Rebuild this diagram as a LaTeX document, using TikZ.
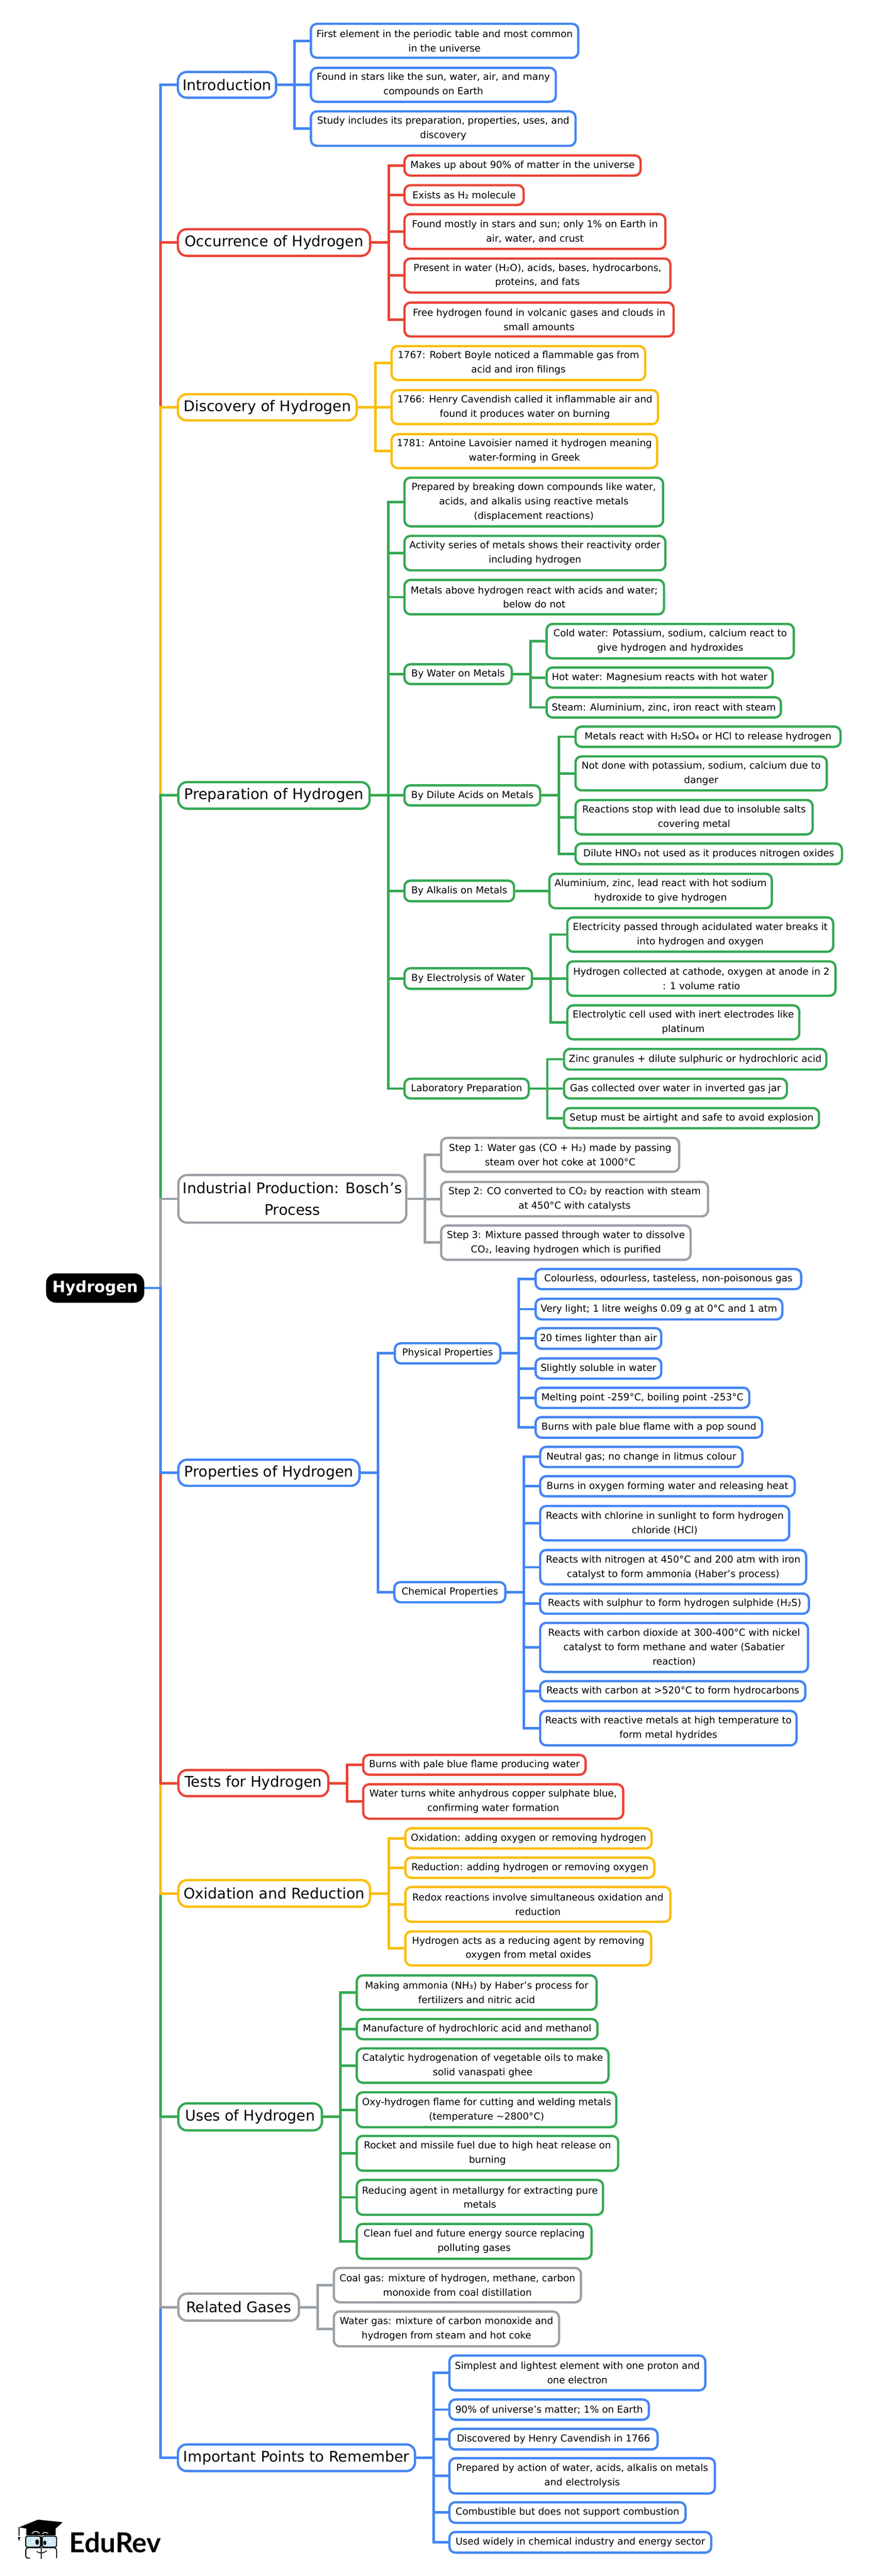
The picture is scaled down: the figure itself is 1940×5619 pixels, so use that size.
\documentclass[tikz,border=0pt]{standalone}
\usepackage{fontspec}
\setmainfont{DejaVu Sans}
\newfontfamily\logofont{Lato}
\definecolor{cblue}{HTML}{4285F4}
\definecolor{cred}{HTML}{EA4335}
\definecolor{cyel}{HTML}{FBBC04}
\definecolor{cgrn}{HTML}{34A853}
\definecolor{cgry}{HTML}{9AA0A6}
\definecolor{clens}{HTML}{CFE8F7}
\tikzset{
  boxbase/.style={draw,fill=white,line width=5pt,align=center,inner sep=0pt,text=black},
  leaf/.style={boxbase,draw=#1,rounded corners=13pt,font=\fontsize{21}{31.3}\selectfont},
  topic/.style={boxbase,draw=#1,rounded corners=19pt,font=\fontsize{32}{47}\selectfont},
  rootbox/.style={boxbase,fill=black,draw=black,text=white,rounded corners=19pt,font=\fontsize{34}{47}\selectfont\bfseries},
  conn/.style={line width=5.5pt,line join=miter}
}
\newcommand\bx[7]{\node[#6,minimum width={(#4-#2)*1pt},minimum height={(#5-#3)*1pt}] (#1) at ({(#2+#4)/2},{(#3+#5)/2}) {#7};}
\newcommand\links[3]{\foreach \c in {#3} \draw[conn,#2] (#1.east) -- ++(38,0) |- (\c.west);}
\begin{document}
\begin{tikzpicture}[x=1pt,y=-1pt]
\useasboundingbox[fill=white] (0,0) rectangle (1940,5619);
% root and main topics
\bx{root}{103}{2780}{312}{2839}{rootbox}{Hydrogen}
\bx{intro}{388}{157}{602}{213}{topic=cblue}{Introduction}
\bx{occ}{388}{500}{807}{558}{topic=cred}{Occurrence of Hydrogen}
\bx{disc}{388}{860}{778}{917}{topic=cyel}{Discovery of Hydrogen}
\bx{prep}{389}{1706}{806}{1764}{topic=cgrn}{Preparation of Hydrogen}
\bx{bosch}{389}{2563}{886}{2667}{topic=cgry}{Industrial Production: Bosch's\\Process}
\bx{props}{389}{3184}{784}{3241}{topic=cblue}{Properties of Hydrogen}
\bx{tests}{389}{3861}{716}{3918}{topic=cred}{Tests for Hydrogen}
\bx{oxid}{389}{4101}{807}{4159}{topic=cyel}{Oxidation and Reduction}
\bx{uses}{389}{4588}{702}{4647}{topic=cgrn}{Uses of Hydrogen}
\bx{rel}{389}{5003}{652}{5062}{topic=cgry}{Related Gases}
\bx{imp}{388}{5332}{905}{5390}{topic=cblue}{Important Points to Remember}
% introduction
\bx{i1}{678}{52}{1261}{126}{leaf=cblue}{First element in the periodic table and most common\\in the universe}
\bx{i2}{678}{148}{1212}{222}{leaf=cblue}{Found in stars like the sun, water, air, and many\\compounds on Earth}
\bx{i3}{678}{243}{1255}{318}{leaf=cblue}{Study includes its preparation, properties, uses, and\\discovery}
% occurrence
\bx{o1}{882}{339}{1397}{383}{leaf=cred}{Makes up about 90\% of matter in the universe}
\bx{o2}{882}{404}{1142}{447}{leaf=cred}{Exists as H₂ molecule}
\bx{o3}{882}{467}{1451}{543}{leaf=cred}{Found mostly in stars and sun; only 1\% on Earth in\\air, water, and crust}
\bx{o4}{882}{564}{1462}{638}{leaf=cred}{Present in water (H₂O), acids, bases, hydrocarbons,\\proteins, and fats}
\bx{o5}{882}{660}{1469}{734}{leaf=cred}{Free hydrogen found in volcanic gases and clouds in\\small amounts}
% discovery
\bx{d1}{854}{755}{1407}{829}{leaf=cyel}{1767: Robert Boyle noticed a flammable gas from\\acid and iron filings}
\bx{d2}{854}{851}{1435}{925}{leaf=cyel}{1766: Henry Cavendish called it inflammable air and\\found it produces water on burning}
\bx{d3}{854}{947}{1433}{1021}{leaf=cyel}{1781: Antoine Lavoisier named it hydrogen meaning\\water-forming in Greek}
% preparation
\bx{p1}{882}{1042}{1446}{1148}{leaf=cgrn}{Prepared by breaking down compounds like water,\\acids, and alkalis using reactive metals\\(displacement reactions)}
\bx{p2}{882}{1169}{1451}{1244}{leaf=cgrn}{Activity series of metals shows their reactivity order\\including hydrogen}
\bx{p3}{882}{1265}{1448}{1340}{leaf=cgrn}{Metals above hydrogen react with acids and water;\\below do not}
\bx{pw}{882}{1449}{1116}{1492}{leaf=cgrn}{By Water on Metals}
\bx{pd}{882}{1713}{1178}{1757}{leaf=cgrn}{By Dilute Acids on Metals}
\bx{pa}{882}{1921}{1121}{1966}{leaf=cgrn}{By Alkalis on Metals}
\bx{pe}{882}{2112}{1160}{2157}{leaf=cgrn}{By Electrolysis of Water}
\bx{pl}{882}{2353}{1153}{2396}{leaf=cgrn}{Laboratory Preparation}
\bx{w1}{1192}{1361}{1731}{1436}{leaf=cgrn}{Cold water: Potassium, sodium, calcium react to\\give hydrogen and hydroxides}
\bx{w2}{1192}{1456}{1685}{1500}{leaf=cgrn}{Hot water: Magnesium reacts with hot water}
\bx{w3}{1192}{1521}{1703}{1565}{leaf=cgrn}{Steam: Aluminium, zinc, iron react with steam}
\bx{a1}{1255}{1585}{1833}{1629}{leaf=cgrn}{Metals react with H₂SO₄ or HCl to release hydrogen}
\bx{a2}{1255}{1650}{1803}{1724}{leaf=cgrn}{Not done with potassium, sodium, calcium due to\\danger}
\bx{a3}{1255}{1745}{1772}{1820}{leaf=cgrn}{Reactions stop with lead due to insoluble salts\\covering metal}
\bx{a4}{1255}{1840}{1836}{1885}{leaf=cgrn}{Dilute HNO₃ not used as it produces nitrogen oxides}
\bx{al1}{1198}{1906}{1683}{1981}{leaf=cgrn}{Aluminium, zinc, lead react with hot sodium\\hydroxide to give hydrogen}
\bx{e1}{1237}{2001}{1817}{2076}{leaf=cgrn}{Electricity passed through acidulated water breaks it\\into hydrogen and oxygen}
\bx{e2}{1237}{2097}{1822}{2172}{leaf=cgrn}{Hydrogen collected at cathode, oxygen at anode in 2\\: 1 volume ratio}
\bx{e3}{1237}{2193}{1743}{2267}{leaf=cgrn}{Electrolytic cell used with inert electrodes like\\platinum}
\bx{l1}{1230}{2288}{1802}{2333}{leaf=cgrn}{Zinc granules + dilute sulphuric or hydrochloric acid}
\bx{l2}{1230}{2353}{1716}{2396}{leaf=cgrn}{Gas collected over water in inverted gas jar}
\bx{l3}{1230}{2417}{1786}{2461}{leaf=cgrn}{Setup must be airtight and safe to avoid explosion}
% bosch
\bx{b1}{962}{2482}{1481}{2556}{leaf=cgry}{Step 1: Water gas (CO + H₂) made by passing\\steam over hot coke at 1000°C}
\bx{b2}{962}{2578}{1544}{2653}{leaf=cgry}{Step 2: CO converted to CO₂ by reaction with steam\\at 450°C with catalysts}
\bx{b3}{962}{2673}{1506}{2748}{leaf=cgry}{Step 3: Mixture passed through water to dissolve\\CO₂, leaving hydrogen which is purified}
% properties
\bx{ph}{861}{2930}{1091}{2974}{leaf=cblue}{Physical Properties}
\bx{ch}{860}{3451}{1102}{3495}{leaf=cblue}{Chemical Properties}
\bx{ph1}{1168}{2768}{1747}{2812}{leaf=cblue}{Colourless, odourless, tasteless, non-poisonous gas}
\bx{ph2}{1168}{2833}{1706}{2878}{leaf=cblue}{Very light; 1 litre weighs 0.09 g at 0°C and 1 atm}
\bx{ph3}{1168}{2897}{1442}{2942}{leaf=cblue}{20 times lighter than air}
\bx{ph4}{1168}{2963}{1442}{3007}{leaf=cblue}{Slightly soluble in water}
\bx{ph5}{1168}{3027}{1634}{3071}{leaf=cblue}{Melting point -259°C, boiling point -253°C}
\bx{ph6}{1168}{3091}{1662}{3136}{leaf=cblue}{Burns with pale blue flame with a pop sound}
\bx{c1}{1178}{3156}{1619}{3200}{leaf=cblue}{Neutral gas; no change in litmus colour}
\bx{c2}{1178}{3220}{1733}{3264}{leaf=cblue}{Burns in oxygen forming water and releasing heat}
\bx{c3}{1178}{3285}{1721}{3360}{leaf=cblue}{Reacts with chlorine in sunlight to form hydrogen\\chloride (HCl)}
\bx{c4}{1178}{3381}{1758}{3456}{leaf=cblue}{Reacts with nitrogen at 450°C and 200 atm with iron\\catalyst to form ammonia (Haber’s process)}
\bx{c5}{1178}{3476}{1764}{3520}{leaf=cblue}{Reacts with sulphur to form hydrogen sulphide (H₂S)}
\bx{c6}{1178}{3540}{1762}{3647}{leaf=cblue}{Reacts with carbon dioxide at 300-400°C with nickel\\catalyst to form methane and water (Sabatier\\reaction)}
\bx{c7}{1178}{3667}{1756}{3711}{leaf=cblue}{Reacts with carbon at >520°C to form hydrocarbons}
\bx{c8}{1178}{3732}{1737}{3807}{leaf=cblue}{Reacts with reactive metals at high temperature to\\form metal hydrides}
% tests
\bx{t1}{792}{3828}{1277}{3871}{leaf=cred}{Burns with pale blue flame producing water}
\bx{t2}{792}{3892}{1359}{3967}{leaf=cred}{Water turns white anhydrous copper sulphate blue,\\confirming water formation}
% oxidation
\bx{x1}{884}{3988}{1421}{4032}{leaf=cyel}{Oxidation: adding oxygen or removing hydrogen}
\bx{x2}{884}{4052}{1427}{4096}{leaf=cyel}{Reduction: adding hydrogen or removing oxygen}
\bx{x3}{884}{4116}{1462}{4192}{leaf=cyel}{Redox reactions involve simultaneous oxidation and\\reduction}
\bx{x4}{884}{4213}{1420}{4287}{leaf=cyel}{Hydrogen acts as a reducing agent by removing\\oxygen from metal oxides}
% uses
\bx{u1}{778}{4309}{1301}{4384}{leaf=cgrn}{Making ammonia (NH₃) by Haber’s process for\\fertilizers and nitric acid}
\bx{u2}{778}{4404}{1303}{4448}{leaf=cgrn}{Manufacture of hydrochloric acid and methanol}
\bx{u3}{778}{4468}{1327}{4543}{leaf=cgrn}{Catalytic hydrogenation of vegetable oils to make\\solid vanaspati ghee}
\bx{u4}{778}{4564}{1344}{4640}{leaf=cgrn}{Oxy-hydrogen flame for cutting and welding metals\\(temperature \textasciitilde 2800°C)}
\bx{u5}{778}{4659}{1348}{4735}{leaf=cgrn}{Rocket and missile fuel due to high heat release on\\burning}
\bx{u6}{778}{4755}{1315}{4831}{leaf=cgrn}{Reducing agent in metallurgy for extracting pure\\metals}
\bx{u7}{778}{4851}{1290}{4927}{leaf=cgrn}{Clean fuel and future energy source replacing\\polluting gases}
% related
\bx{r1}{728}{4947}{1267}{5022}{leaf=cgry}{Coal gas: mixture of hydrogen, methane, carbon\\monoxide from coal distillation}
\bx{r2}{728}{5042}{1219}{5118}{leaf=cgry}{Water gas: mixture of carbon monoxide and\\hydrogen from steam and hot coke}
% important
\bx{m1}{980}{5138}{1538}{5214}{leaf=cblue}{Simplest and lightest element with one proton and\\one electron}
\bx{m2}{980}{5234}{1415}{5278}{leaf=cblue}{90\% of universe’s matter; 1\% on Earth}
\bx{m3}{980}{5298}{1434}{5343}{leaf=cblue}{Discovered by Henry Cavendish in 1766}
\bx{m4}{980}{5362}{1559}{5439}{leaf=cblue}{Prepared by action of water, acids, alkalis on metals\\and electrolysis}
\bx{m5}{980}{5458}{1495}{5503}{leaf=cblue}{Combustible but does not support combustion}
\bx{m6}{980}{5523}{1551}{5568}{leaf=cblue}{Used widely in chemical industry and energy sector}
% trunk, painted so that the nearer branches lie on top
\draw[conn,cblue] (root.east) -- ++(36,0) |- (intro.west);
\draw[conn,cred] (root.east) -- ++(36,0) |- (occ.west);
\draw[conn,cyel] (root.east) -- ++(36,0) |- (disc.west);
\draw[conn,cgrn] (root.east) -- ++(36,0) |- (prep.west);
\draw[conn,cgry] (root.east) -- ++(36,0) |- (bosch.west);
\draw[conn,cblue] (root.east) -- ++(36,0) |- (imp.west);
\draw[conn,cgry] (root.east) -- ++(36,0) |- (rel.west);
\draw[conn,cgrn] (root.east) -- ++(36,0) |- (uses.west);
\draw[conn,cyel] (root.east) -- ++(36,0) |- (oxid.west);
\draw[conn,cred] (root.east) -- ++(36,0) |- (tests.west);
\draw[conn,cblue] (root.east) -- ++(36,0) |- (props.west);
% branches
\links{intro}{cblue}{i1,i2,i3}
\links{occ}{cred}{o1,o2,o3,o4,o5}
\links{disc}{cyel}{d1,d2,d3}
\links{prep}{cgrn}{p1,p2,p3,pw,pd,pa,pe,pl}
\links{pw}{cgrn}{w1,w2,w3}
\links{pd}{cgrn}{a1,a2,a3,a4}
\links{pa}{cgrn}{al1}
\links{pe}{cgrn}{e1,e2,e3}
\links{pl}{cgrn}{l1,l2,l3}
\links{bosch}{cgry}{b1,b2,b3}
\links{props}{cblue}{ph,ch}
\links{ph}{cblue}{ph1,ph2,ph3,ph4,ph5,ph6}
\links{ch}{cblue}{c1,c2,c3,c4,c5,c6,c7,c8}
\links{tests}{cred}{t1,t2}
\links{oxid}{cyel}{x1,x2,x3,x4}
\links{uses}{cgrn}{u1,u2,u3,u4,u5,u6,u7}
\links{rel}{cgry}{r1,r2}
\links{imp}{cblue}{m1,m2,m3,m4,m5,m6}
% logo
\node[anchor=base west,inner sep=0pt,font=\fontsize{60}{60}\selectfont\logofont\bfseries] (logo) at (151,5568) {EduRev};
\begin{scope}[shift={(20,5470)},x=0.3333pt,y=-0.3333pt]
  % lenses and head
  \draw[black,line width=2.2pt,fill=clens,rounded corners=4pt] (108,186) rectangle (205,258);
  \draw[black,line width=2.2pt,fill=clens,rounded corners=4pt] (217,186) rectangle (310,258);
  \draw[black,line width=2.2pt,rounded corners=5pt] (135,330) -- (108,330) -- (108,262) -- (205,262);
  \draw[black,line width=2.2pt,rounded corners=5pt] (217,262) -- (310,262) -- (310,330);
  \draw[black,line width=2.2pt] (211,180) -- (211,335);
  \fill[white] (148,216) rectangle (162,228);
  \fill[white] (258,216) rectangle (276,228);
  \fill[black] (183,225) ellipse [x radius=12,y radius=18];
  \fill[black] (233,230) ellipse [x radius=10,y radius=15];
  \draw[black,line width=1.8pt] (180,286) .. controls (205,303) and (225,298) .. (245,281);
  % cap
  \fill[black] (112,135) -- (112,180) -- (305,180) -- (305,135) -- cycle;
  \fill[black] (65,128) -- (188,78) -- (350,95) -- (272,166) -- cycle;
  \draw[white,line width=1.6pt] (148,170) .. controls (160,150) and (185,150) .. (198,168);
  \draw[white,line width=1.6pt] (218,170) .. controls (225,160) and (240,158) .. (255,168);
  \draw[black,line width=1.6pt] (65,128) -- (65,185);
  \fill[black] (57,192) -- (73,192) -- (65,220) -- cycle;
\end{scope}
\end{tikzpicture}
\end{document}
